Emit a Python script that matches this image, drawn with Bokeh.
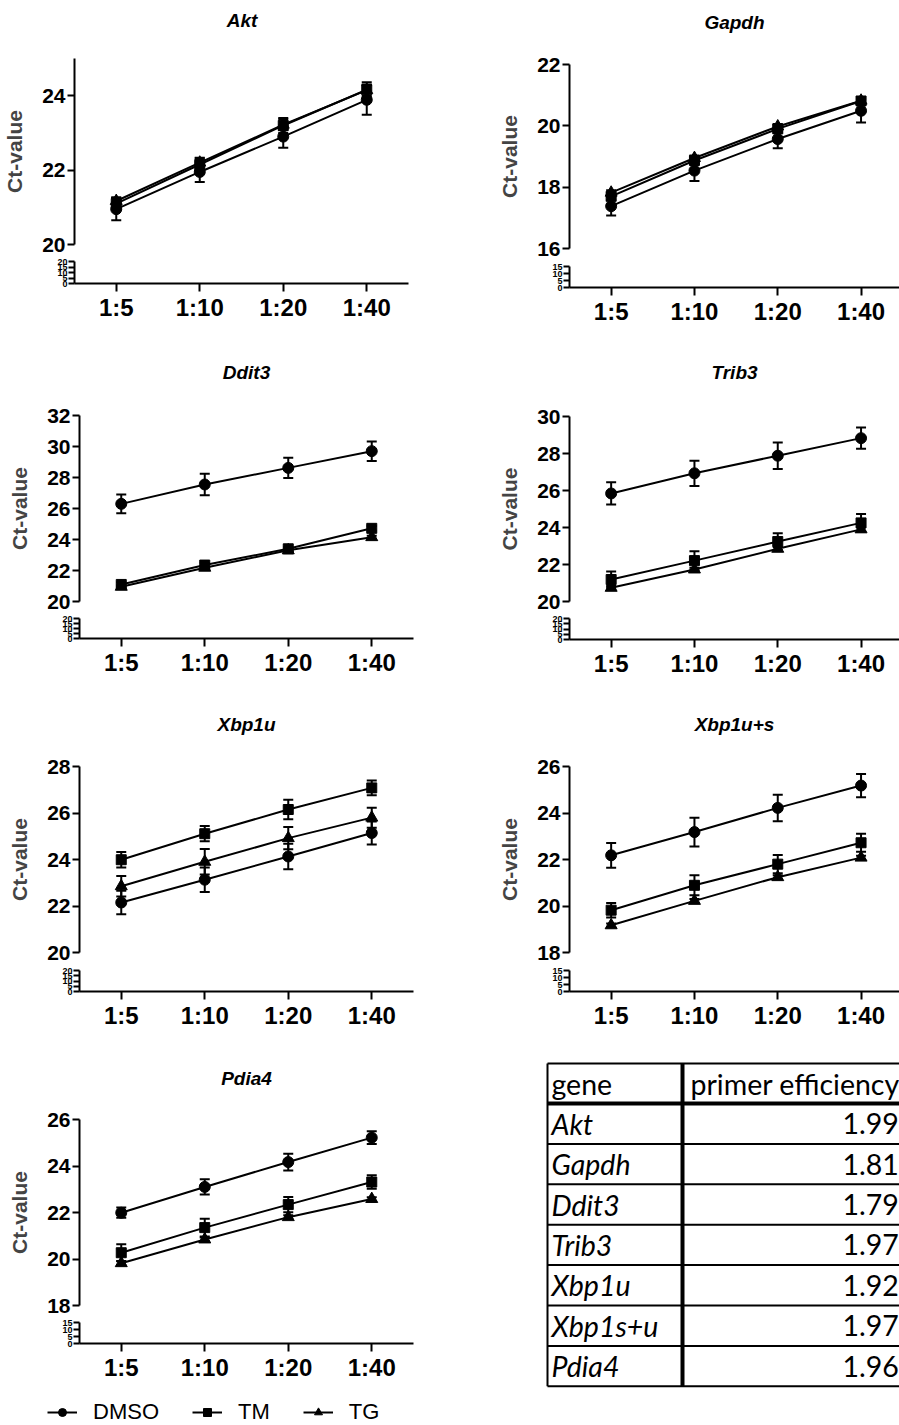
import math
from bokeh.plotting import figure
from bokeh.layouts import row, column
from bokeh.models import (Range1d, FixedTicker, Whisker, TeeHead, ColumnDataSource,
                          Legend, LegendItem, Label)
from bokeh.embed import file_html
from bokeh.resources import INLINE
from bokeh.core.properties import value

# ---------------- data ----------------
dilutions = ["1:5", "1:10", "1:20", "1:40"]
series_names = ["DMSO", "TM", "TG"]

akt_dmso = [20.95, 21.95, 22.90, 23.89]
akt_dmso_sd = [0.30, 0.27, 0.30, 0.40]
akt_tm = [21.10, 22.15, 23.20, 24.16]
akt_tm_sd = [0.15, 0.18, 0.20, 0.20]
akt_tg = [21.17, 22.20, 23.22, 24.15]
akt_tg_sd = [0.10, 0.12, 0.15, 0.15]

gapdh_dmso = [17.38, 18.54, 19.57, 20.49]
gapdh_dmso_sd = [0.30, 0.34, 0.30, 0.38]
gapdh_tm = [17.70, 18.87, 19.90, 20.81]
gapdh_tm_sd = [0.12, 0.10, 0.10, 0.12]
gapdh_tg = [17.82, 18.95, 19.98, 20.82]
gapdh_tg_sd = [0.08, 0.08, 0.08, 0.08]

ddit3_dmso = [26.30, 27.55, 28.62, 29.70]
ddit3_dmso_sd = [0.60, 0.70, 0.65, 0.63]
ddit3_tm = [21.10, 22.35, 23.40, 24.72]
ddit3_tm_sd = [0.15, 0.15, 0.12, 0.15]
ddit3_tg = [20.95, 22.18, 23.30, 24.15]
ddit3_tg_sd = [0.10, 0.10, 0.10, 0.10]

trib3_dmso = [25.84, 26.93, 27.88, 28.83]
trib3_dmso_sd = [0.60, 0.68, 0.72, 0.57]
trib3_tm = [21.19, 22.21, 23.24, 24.25]
trib3_tm_sd = [0.43, 0.50, 0.45, 0.48]
trib3_tg = [20.74, 21.73, 22.85, 23.90]
trib3_tg_sd = [0.10, 0.10, 0.10, 0.10]

xbp1u_dmso = [22.15, 23.13, 24.13, 25.14]
xbp1u_dmso_sd = [0.51, 0.53, 0.55, 0.49]
xbp1u_tm = [23.99, 25.11, 26.15, 27.08]
xbp1u_tm_sd = [0.33, 0.33, 0.42, 0.32]
xbp1u_tg = [22.85, 23.90, 24.92, 25.80]
xbp1u_tg_sd = [0.44, 0.55, 0.48, 0.43]

xbp1us_dmso = [22.18, 23.18, 24.22, 25.18]
xbp1us_dmso_sd = [0.53, 0.62, 0.57, 0.50]
xbp1us_tm = [19.82, 20.89, 21.80, 22.72]
xbp1us_tm_sd = [0.31, 0.43, 0.39, 0.39]
xbp1us_tg = [19.17, 20.22, 21.24, 22.08]
xbp1us_tg_sd = [0.08, 0.08, 0.08, 0.08]

pdia4_dmso = [21.99, 23.10, 24.17, 25.22]
pdia4_dmso_sd = [0.22, 0.33, 0.36, 0.27]
pdia4_tm = [20.27, 21.35, 22.34, 23.31]
pdia4_tm_sd = [0.36, 0.38, 0.33, 0.29]
pdia4_tg = [19.82, 20.84, 21.80, 22.58]
pdia4_tg_sd = [0.08, 0.08, 0.08, 0.08]

table_genes = ["Akt", "Gapdh", "Ddit3", "Trib3", "Xbp1u", "Xbp1s+u", "Pdia4"]
table_eff = ["1.99", "1.81", "1.79", "1.97", "1.92", "1.97", "1.96"]

# ---------------- style ----------------
FONT = "Liberation Sans"
TFONT = "Lato"
MARKERS = ["circle", "square", "triangle"]
MSIZES = [11, 10, 12]

LEFT_A = dict(left=73, frame_w=335, right=71, px_cat=83.75)
LEFT_B = dict(left=79, frame_w=334, right=66, px_cat=83.5)
RIGHT = dict(left=90, frame_w=330, right=0, px_cat=83.3)
TB = 12  # room above the upper frame for the top tick label


def style_y(ax, size):
    ax.axis_line_width = 2
    ax.axis_line_color = "black"
    ax.major_tick_line_width = 2
    ax.major_tick_line_color = "black"
    ax.major_tick_out = 7
    ax.major_tick_in = 0
    ax.minor_tick_line_color = None
    ax.major_label_text_font = FONT
    ax.major_label_text_font_style = "bold"
    ax.major_label_text_font_size = size
    ax.major_label_text_color = "black"


def bare(width, height, xr=None, yr=None):
    p = figure(width=width, height=height,
               x_range=xr or Range1d(0, 1), y_range=yr or Range1d(0, 1),
               output_backend="svg", toolbar_location=None,
               min_border_left=0, min_border_right=0, min_border_top=0, min_border_bottom=0)
    p.axis.visible = False
    p.grid.grid_line_color = None
    p.outline_line_color = None
    return p


def make_panel(title, means, sds, up_lim, up_ticks, low_top, low_ticks, g, v):
    xs = list(range(len(dilutions)))
    xr = Range1d(-0.5, -0.5 + g["frame_w"] / g["px_cat"])
    width = g["left"] + g["frame_w"] + g["right"]

    # title strip (its frame is aligned with the panel frame by the column layout)
    th = v["top"] - TB
    tf = bare(width, th)
    tf.add_layout(Label(x=g["frame_w"] / 2, y=th - (v["top"] - v["tdist"]),
                        x_units="screen", y_units="screen", text=title,
                        text_font=FONT, text_font_style="bold italic",
                        text_font_size="19px", text_align="center",
                        text_baseline="middle", text_color="black"))

    # upper (data) segment
    up = figure(width=width, height=TB + v["up_h"] + v["ub"], x_range=xr,
                y_range=Range1d(*up_lim), x_axis_location=None,
                output_backend="svg", toolbar_location=None,
                min_border_left=g["left"], min_border_right=g["right"],
                min_border_top=TB, min_border_bottom=v["ub"])
    up.outline_line_color = None
    up.grid.grid_line_color = None
    ax = up.yaxis[0]
    ax.ticker = FixedTicker(ticks=up_ticks)
    style_y(ax, "21px")
    ax.major_label_standoff = 2
    ax.axis_label = "Ct-value"
    ax.axis_label_text_font = FONT
    ax.axis_label_text_font_style = "bold"
    ax.axis_label_text_font_size = "21px"
    ax.axis_label_standoff = 13

    sources = []
    for mean, sd in zip(means, sds):
        src = ColumnDataSource(dict(x=xs, y=mean,
                                    upper=[m + s for m, s in zip(mean, sd)],
                                    lower=[m - s for m, s in zip(mean, sd)]))
        sources.append(src)
        up.line("x", "y", source=src, line_color="black", line_width=2)
    for src in sources:
        up.add_layout(Whisker(source=src, base="x", upper="upper", lower="lower",
                              line_color="black", line_width=2,
                              upper_head=TeeHead(size=10, line_width=2, line_color="black"),
                              lower_head=TeeHead(size=10, line_width=2, line_color="black")))
    for src, mk, sz in zip(sources, MARKERS, MSIZES):
        up.scatter("x", "y", source=src, marker=mk, size=sz,
                   fill_color="black", line_color="black")

    # lower (broken-axis) segment with the category axis
    lo = figure(width=width, height=v["gap"] + v["low_h"] + v["bottom"], x_range=xr,
                y_range=Range1d(0, low_top),
                output_backend="svg", toolbar_location=None,
                min_border_left=g["left"], min_border_right=g["right"],
                min_border_top=v["gap"], min_border_bottom=v["bottom"])
    lo.outline_line_color = None
    lo.grid.grid_line_color = None
    lay = lo.yaxis[0]
    lay.ticker = FixedTicker(ticks=low_ticks)
    style_y(lay, "9px")
    lay.major_tick_out = 6
    lay.major_label_standoff = 1
    xa = lo.xaxis[0]
    xa.ticker = FixedTicker(ticks=xs)
    xa.major_label_overrides = {i: d for i, d in zip(xs, dilutions)}
    style_y(xa, "24px")
    xa.major_tick_out = 8
    xa.major_label_standoff = 2
    lo.scatter(x=[math.nan], y=[math.nan], size=1, alpha=0)
    return column(tf, up, lo)


V1A = dict(top=58, up_h=186, ub=12, gap=5, low_h=22, bottom=57, tdist=38)
V1B = dict(top=64, up_h=184, ub=12, gap=6, low_h=21, bottom=53, tdist=42)
V2A = dict(top=75, up_h=186, ub=12, gap=5, low_h=20, bottom=54, tdist=43)
V2B = dict(top=76, up_h=185, ub=12, gap=5, low_h=21, bottom=53, tdist=44)
V3 = dict(top=74, up_h=186, ub=12, gap=6, low_h=21, bottom=54, tdist=42)
V4 = dict(top=74, up_h=186, ub=12, gap=5, low_h=21, bottom=52, tdist=41)

p_akt = make_panel("Akt", [akt_dmso, akt_tm, akt_tg], [akt_dmso_sd, akt_tm_sd, akt_tg_sd],
                   (20, 25), [20, 22, 24], 20, [0, 5, 10, 15, 20], LEFT_A, V1A)
p_gapdh = make_panel("Gapdh", [gapdh_dmso, gapdh_tm, gapdh_tg],
                     [gapdh_dmso_sd, gapdh_tm_sd, gapdh_tg_sd],
                     (16, 22), [16, 18, 20, 22], 15, [0, 5, 10, 15], RIGHT, V1B)
p_ddit3 = make_panel("Ddit3", [ddit3_dmso, ddit3_tm, ddit3_tg],
                     [ddit3_dmso_sd, ddit3_tm_sd, ddit3_tg_sd],
                     (20, 32), [20, 22, 24, 26, 28, 30, 32], 20, [0, 5, 10, 15, 20], LEFT_B, V2A)
p_trib3 = make_panel("Trib3", [trib3_dmso, trib3_tm, trib3_tg],
                     [trib3_dmso_sd, trib3_tm_sd, trib3_tg_sd],
                     (20, 30), [20, 22, 24, 26, 28, 30], 20, [0, 5, 10, 15, 20], RIGHT, V2B)
p_xbp1u = make_panel("Xbp1u", [xbp1u_dmso, xbp1u_tm, xbp1u_tg],
                     [xbp1u_dmso_sd, xbp1u_tm_sd, xbp1u_tg_sd],
                     (20, 28), [20, 22, 24, 26, 28], 20, [0, 5, 10, 15, 20], LEFT_B, V3)
p_xbp1us = make_panel("Xbp1u+s", [xbp1us_dmso, xbp1us_tm, xbp1us_tg],
                      [xbp1us_dmso_sd, xbp1us_tm_sd, xbp1us_tg_sd],
                      (18, 26), [18, 20, 22, 24, 26], 15, [0, 5, 10, 15], RIGHT, V3)
p_pdia4 = make_panel("Pdia4", [pdia4_dmso, pdia4_tm, pdia4_tg],
                     [pdia4_dmso_sd, pdia4_tm_sd, pdia4_tg_sd],
                     (18, 26), [18, 20, 22, 24, 26], 15, [0, 5, 10, 15], LEFT_B, V4)

# ---------------- table ----------------
TX0, TX1, TY0, TY1 = 479, 899, 1045, 1395
tab = bare(TX1 - TX0, TY1 - TY0, Range1d(TX0, TX1), Range1d(TY1, TY0))

t_left, t_div, t_right = 547, 682, 910
t_top, hdr_h, row_h = 1063, 40, 40.4
hdr_bot = t_top + hdr_h
n = len(table_genes)
row_lines = [hdr_bot + row_h * (i + 1) for i in range(n)]
t_bot = row_lines[-1]
tab.segment(x0=[t_left] * (n + 1), x1=[t_right] * (n + 1),
            y0=[t_top] + row_lines, y1=[t_top] + row_lines,
            line_color="black", line_width=2)
tab.segment(x0=[t_left], x1=[t_right], y0=[hdr_bot], y1=[hdr_bot],
            line_color="black", line_width=4)
tab.segment(x0=[t_left], x1=[t_left], y0=[t_top], y1=[t_bot],
            line_color="black", line_width=2)
tab.segment(x0=[t_div], x1=[t_div], y0=[t_top], y1=[t_bot],
            line_color="black", line_width=4)
row_mid = [hdr_bot + row_h * (i + 0.5) for i in range(n)]
tab.text(x=[t_left + 4, t_div + 8], y=[t_top + hdr_h / 2] * 2, text=["gene", "primer efficiency"],
         text_font=value(TFONT), text_font_size="28.5px", text_baseline="middle",
         text_align="left", text_color="black")
tab.text(x=[t_left + 4] * n, y=row_mid, text=table_genes,
         text_font=value(TFONT), text_font_size="28.5px", text_font_style="italic",
         text_baseline="middle", text_align="left", text_color="black")
tab.text(x=[842] * n, y=row_mid, text=table_eff,
         text_font=value(TFONT), text_font_size="28.5px",
         text_baseline="middle", text_align="left", text_color="black")

# ---------------- legend ----------------
leg = bare(479, 30)
items = []
for name, mk, sz in zip(series_names, MARKERS, MSIZES):
    lr = leg.line(x=[math.nan], y=[math.nan], line_color="black", line_width=2)
    sr = leg.scatter(x=[math.nan], y=[math.nan], marker=mk, size=sz,
                     fill_color="black", line_color="black")
    items.append(LegendItem(label=name, renderers=[lr, sr]))
legend = Legend(items=items, orientation="horizontal", location=(47, 0),
                glyph_width=30, glyph_height=20, label_standoff=16, spacing=33,
                padding=0, margin=0, border_line_color=None, background_fill_alpha=0,
                label_text_font=FONT, label_text_font_size="22px", label_text_color="black")
leg.add_layout(legend, "center")

layout = column(row(p_akt, p_gapdh), row(p_ddit3, p_trib3), row(p_xbp1u, p_xbp1us),
                row(p_pdia4, tab), leg)

open("out.html", "w").write(file_html(layout, INLINE))
